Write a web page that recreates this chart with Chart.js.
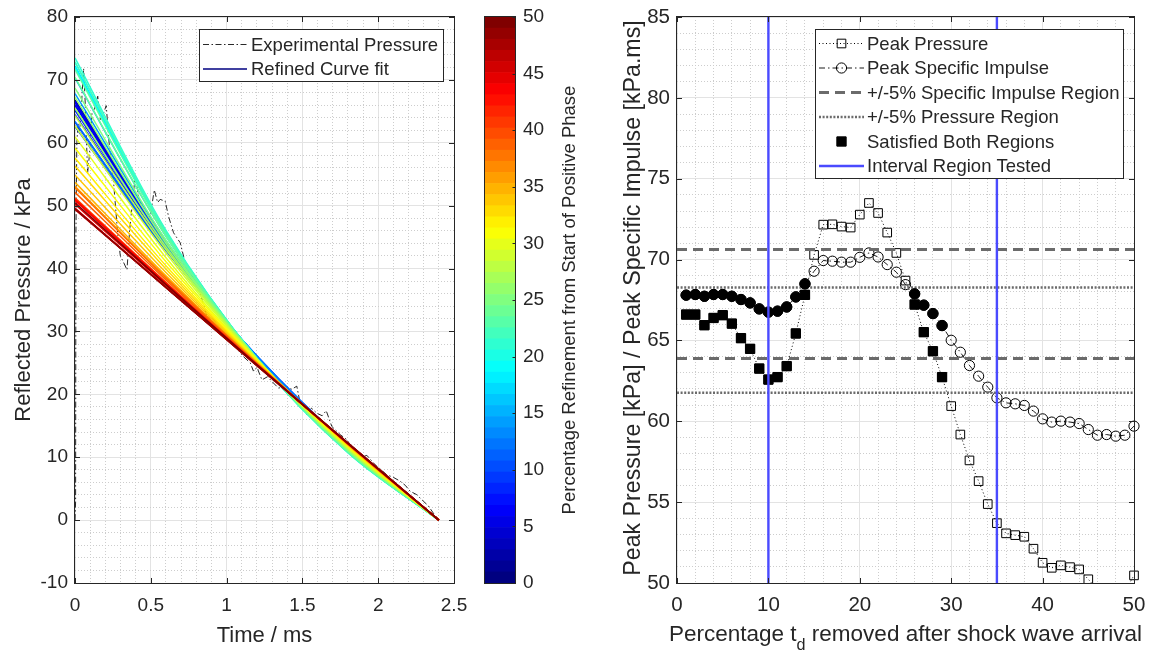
<!DOCTYPE html>
<html lang="en">
<head>
<meta charset="utf-8">
<title>Refined curve fits and peak values</title>
<script src="https://cdn.jsdelivr.net/npm/chart.js@4.4.1/dist/chart.umd.min.js"></script>
<style>
  html, body { margin: 0; background: #ffffff; }
  #figure { position: relative; width: 1154px; height: 650px; overflow: hidden; }
  #figure canvas { position: absolute; top: 0; }
</style>
</head>
<body>
<div id="figure">
  <canvas id="fitChart" width="470" height="650" style="left:0;width:470px;height:650px"></canvas>
  <canvas id="colorBar" width="130" height="650" style="left:470px;width:130px;height:650px"></canvas>
  <canvas id="peakChart" width="554" height="650" style="left:600px;width:554px;height:650px"></canvas>
</div>
<script>
const FONT = "'Liberation Sans', Arial, Helvetica, sans-serif";
const INK = '#262626';
Chart.defaults.font.family = FONT;
Chart.defaults.color = INK;

// ---- left panel: measured trace ----
const expTime = [0.000, 0.004, 0.006, 0.012, 0.020, 0.030, 0.040, 0.057, 0.068, 0.083,
  0.095, 0.112, 0.130, 0.150, 0.167, 0.185, 0.206, 0.225, 0.255, 0.281,
  0.299, 0.320, 0.343, 0.360, 0.397, 0.420, 0.450, 0.496, 0.523, 0.545,
  0.562, 0.595, 0.617, 0.650, 0.694, 0.727, 0.770, 0.826, 0.870, 0.914,
  0.960, 1.000, 1.050, 1.111, 1.156, 1.177, 1.200, 1.233, 1.270, 1.309,
  1.342, 1.397, 1.430, 1.463, 1.485, 1.529, 1.560, 1.595, 1.630, 1.657,
  1.694, 1.749, 1.793, 1.837, 1.881, 1.925, 1.980, 2.020, 2.057, 2.100,
  2.144, 2.180, 2.210, 2.254, 2.298, 2.330, 2.364, 2.397];
const expPressure = [0.0, 3.0, 45.0, 60.0, 63.0, 61.5, 65.0, 71.8, 66.0, 55.2,
  58.0, 64.7, 65.5, 67.4, 63.7, 64.5, 65.9, 60.0, 53.6, 45.7,
  42.0, 41.0, 39.8, 46.0, 54.7, 51.5, 49.0, 48.3, 52.5, 50.5,
  51.0, 50.7, 48.3, 45.7, 44.1, 40.9, 39.0, 36.1, 32.4, 31.9,
  30.5, 29.5, 27.8, 26.0, 25.0, 23.7, 24.3, 22.3, 22.8, 21.8,
  21.0, 21.2, 20.8, 21.3, 18.6, 16.8, 17.8, 17.0, 16.6, 17.4,
  14.9, 13.6, 12.8, 11.2, 9.9, 10.3, 8.8, 8.0, 7.2, 6.8,
  6.2, 5.5, 4.6, 4.05, 3.0, 2.3, 1.1, 0.1];

// ---- right panel: peak values per percentage removed ----
const percentRemoved = [1, 2, 3, 4, 5, 6, 7, 8, 9, 10,
  11, 12, 13, 14, 15, 16, 17, 18, 19, 20,
  21, 22, 23, 24, 25, 26, 27, 28, 29, 30,
  31, 32, 33, 34, 35, 36, 37, 38, 39, 40,
  41, 42, 43, 44, 45, 46, 47, 48, 49, 50];
const peakPressure = [66.60, 66.60, 65.94, 66.39, 66.56, 66.04, 65.14, 64.48, 63.26, 62.58,
  62.73, 63.41, 65.43, 67.82, 70.29, 72.16, 72.18, 72.04, 71.98, 72.78,
  73.50, 72.88, 71.67, 70.41, 68.70, 67.22, 65.51, 64.33, 62.73, 60.94,
  59.18, 57.58, 56.30, 54.88, 53.70, 53.07, 52.96, 52.86, 52.12, 51.25,
  50.94, 51.09, 50.98, 50.84, 50.23, 49.60, 49.40, 49.50, 49.50, 50.47];
const peakImpulse = [67.80, 67.84, 67.73, 67.84, 67.84, 67.73, 67.53, 67.32, 66.95, 66.75,
  66.81, 67.07, 67.69, 68.50, 69.28, 69.94, 69.90, 69.84, 69.84, 70.14,
  70.41, 70.16, 69.69, 69.22, 68.45, 67.88, 67.18, 66.66, 65.92, 65.01,
  64.27, 63.45, 62.79, 62.11, 61.45, 61.14, 61.08, 60.98, 60.63, 60.15,
  59.95, 60.01, 59.95, 59.86, 59.49, 59.14, 59.18, 59.08, 59.14, 59.70];
const impulseRegion = [63.88, 70.62];
const pressureRegion = [61.76, 68.27];
const intervalTested = [10, 35];

// ---- left panel: refined fits, one per refinement percentage ----
const fitPercent = [0, 1, 2, 3, 4, 5, 6, 7, 8, 9, 10,
  11, 12, 13, 14, 15, 16, 17, 18, 19, 20,
  21, 22, 23, 24, 25, 26, 27, 28, 29, 30,
  31, 32, 33, 34, 35, 36, 37, 38, 39, 40,
  41, 42, 43, 44, 45, 46, 47, 48, 49, 50];
const fitTimes = [0, 0.6, 1.2, 1.8, 2.4];
const fitPeakAtZero = 66.80;   // the 0 % line; the others start at peakPressure
const fitAt06 = [43.94, 43.91, 43.94, 43.80, 43.91, 43.93, 43.81, 43.59, 43.40, 43.04,
  42.85, 42.90, 43.13, 43.71, 44.43, 45.13, 45.68, 45.66, 45.61, 45.61,
  45.85, 46.07, 45.88, 45.49, 45.11, 44.50, 44.03, 43.45, 43.03, 42.44,
  41.73, 41.10, 40.45, 39.93, 39.36, 38.85, 38.59, 38.54, 38.48, 38.19,
  37.80, 37.65, 37.70, 37.66, 37.59, 37.30, 37.02, 37.00, 36.97, 37.00,
  37.45];
const fitAt12 = [25.69, 25.74, 25.76, 25.86, 25.82, 25.77, 25.84, 25.93, 25.96, 26.03,
  26.08, 26.08, 26.07, 25.96, 25.88, 25.75, 25.71, 25.67, 25.67, 25.69,
  25.68, 25.67, 25.67, 25.67, 25.68, 25.63, 25.64, 25.62, 25.59, 25.53,
  25.40, 25.38, 25.26, 25.17, 25.10, 24.98, 24.94, 24.93, 24.90, 24.87,
  24.78, 24.73, 24.73, 24.72, 24.70, 24.62, 24.56, 24.64, 24.55, 24.59,
  24.69];
const fitAt18 = [11.26, 11.31, 11.33, 11.45, 11.38, 11.34, 11.43, 11.57, 11.65, 11.81,
  11.90, 11.89, 11.82, 11.56, 11.30, 11.02, 10.85, 10.83, 10.84, 10.85,
  10.79, 10.73, 10.77, 10.86, 10.97, 11.07, 11.20, 11.33, 11.41, 11.51,
  11.60, 11.75, 11.83, 11.90, 12.00, 12.05, 12.09, 12.10, 12.08, 12.15,
  12.18, 12.19, 12.17, 12.18, 12.18, 12.19, 12.22, 12.30, 12.22, 12.25,
  12.21];
const fitAtEnd = 0;

// ---- tick labels ----
const timeTicks = [0, 0.5, 1, 1.5, 2, 2.5];
const pressureTicks = [-10, 0, 10, 20, 30, 40, 50, 60, 70, 80];
const colorTicks = [0, 5, 10, 15, 20, 25, 30, 35, 40, 45, 50];
const percentTicks = [0, 10, 20, 30, 40, 50];
const peakTicks = [50, 55, 60, 65, 70, 75, 80, 85];

// jet colour map, v from 0 to 1
function jet(v) {
  const c = x => Math.round(255 * Math.max(0, Math.min(1, x)));
  return 'rgb(' + c(1.5 - Math.abs(4 * v - 3)) + ',' + c(1.5 - Math.abs(4 * v - 2)) + ',' + c(1.5 - Math.abs(4 * v - 1)) + ')';
}

// fixed axis sizes, no extra label padding
function fixX(h) { return s => { s.height = h; s.paddingLeft = 0; s.paddingRight = 0; }; }
function fixY(w) { return s => { s.width = w; s.paddingTop = 0; s.paddingBottom = 0; }; }

// linear axis with solid major and dotted minor grid lines
function gridAxis(ticks, minor, pad, size, fit) {
  const isMajor = v => ticks.some(t => Math.abs(t - v) < 1e-6);
  return {
    type: 'linear', min: ticks[0], max: ticks[ticks.length - 1],
    ticks: {
      stepSize: minor, autoSkip: false, maxRotation: 0, minRotation: 0, padding: pad,
      color: INK, font: { size: size },
      callback: v => isMajor(v) ? String(Math.round(v * 100) / 100) : ''
    },
    grid: {
      drawTicks: false, lineWidth: 1,
      color: c => (c.tick && isMajor(c.tick.value)) ? '#e3e3e3' : '#cdcdcd'
    },
    border: { display: false, dash: c => (c.tick && !isMajor(c.tick.value)) ? [1, 2] : [] },
    afterFit: fit
  };
}

// axes box with inward tick marks
const frameBox = {
  id: 'frameBox',
  afterDatasetsDraw(chart, args, o) {
    const { ctx, chartArea: a, scales } = chart;
    const l = a.left - 0.5, r = a.right + 0.5, t = a.top - 0.5, b = a.bottom + 0.5;
    const len = o.len || 5.5;
    ctx.save();
    ctx.strokeStyle = INK;
    ctx.lineWidth = 1;
    ctx.strokeRect(l, t, r - l, b - t);
    ctx.beginPath();
    (o.xTicks || []).forEach(v => {
      const x = Math.round(scales.x.getPixelForValue(v)) + 0.5;
      ctx.moveTo(x, b); ctx.lineTo(x, b - len);
      ctx.moveTo(x, t); ctx.lineTo(x, t + len);
    });
    (o.yTicks || []).forEach(v => {
      const y = Math.round(scales.y.getPixelForValue(v)) + 0.5;
      if (!o.rightOnly) { ctx.moveTo(l, y); ctx.lineTo(l + len, y); }
      ctx.moveTo(r, y); ctx.lineTo(r - len, y);
    });
    ctx.stroke();
    ctx.restore();
  }
};

// axis titles, with optional subscript parts
const axisTitles = {
  id: 'axisTitles',
  afterDraw(chart, args, o) {
    const ctx = chart.ctx;
    (o.items || []).forEach(it => {
      const parts = it.parts || [{ text: it.text }];
      ctx.save();
      ctx.translate(it.x, it.y);
      ctx.rotate((it.rotate || 0) * Math.PI / 180);
      ctx.fillStyle = INK;
      ctx.textBaseline = 'alphabetic';
      ctx.textAlign = 'left';
      let total = 0;
      parts.forEach(p => {
        ctx.font = (p.sub ? it.size * 0.72 : it.size) + 'px ' + FONT;
        p.w = ctx.measureText(p.text).width;
        total += p.w;
      });
      let x = -total / 2;
      parts.forEach(p => {
        ctx.font = (p.sub ? it.size * 0.72 : it.size) + 'px ' + FONT;
        ctx.fillText(p.text, x, p.sub ? it.size * 0.42 : 0);
        x += p.w;
      });
      ctx.restore();
    });
  }
};

function drawMarker(ctx, d, x, y) {
  const r = d.pointRadius;
  ctx.save();
  ctx.setLineDash([]);
  ctx.beginPath();
  if (d.pointStyle === 'rect') {
    const s = r * Math.SQRT1_2;
    ctx.rect(x - s, y - s, 2 * s, 2 * s);
  } else {
    ctx.arc(x, y, r, 0, Math.PI * 2);
  }
  ctx.fillStyle = d.pointBackgroundColor;
  ctx.fill();
  ctx.strokeStyle = d.pointBorderColor;
  ctx.lineWidth = d.pointBorderWidth;
  ctx.stroke();
  ctx.restore();
}

// boxed legend with line + marker samples
const boxLegend = {
  id: 'boxLegend',
  afterDraw(chart, args, o) {
    if (!o.rows) return;
    const ctx = chart.ctx;
    const sets = chart.data.datasets.filter(d => d.inLegend);
    ctx.save();
    ctx.fillStyle = '#ffffff';
    ctx.fillRect(o.x, o.y, o.w, o.h);
    ctx.strokeStyle = INK;
    ctx.lineWidth = 1;
    ctx.strokeRect(o.x + 0.5, o.y + 0.5, o.w, o.h);
    sets.forEach((d, k) => {
      const y = o.rows[k];
      if (d.showLine !== false) {
        ctx.save();
        ctx.strokeStyle = d.borderColor;
        ctx.lineWidth = d.borderWidth;
        ctx.setLineDash(d.borderDash || []);
        ctx.beginPath();
        ctx.moveTo(o.lineX[0], y);
        ctx.lineTo(o.lineX[1], y);
        ctx.stroke();
        ctx.restore();
      }
      if (d.pointRadius > 0) drawMarker(ctx, d, (o.lineX[0] + o.lineX[1]) / 2, y);
      ctx.fillStyle = INK;
      ctx.font = o.size + 'px ' + FONT;
      ctx.textBaseline = 'middle';
      ctx.textAlign = 'left';
      ctx.fillText(d.label, o.textX, y + 1);
    });
    ctx.restore();
  }
};

// ---------- left panel ----------
const fitAt0 = [fitPeakAtZero].concat(peakPressure);
const fitSets = fitPercent.map((p, i) => {
  const vals = [fitAt0[i], fitAt06[i], fitAt12[i], fitAt18[i], fitAtEnd];
  return {
    label: 'Refined Curve fit',
    inLegend: i === 0,
    data: fitTimes.map((t, k) => ({ x: t, y: vals[k] })),
    borderColor: jet(p / 50),
    borderWidth: 1.5,
    pointRadius: 0,
    cubicInterpolationMode: 'monotone',
    order: 100 - i
  };
});

new Chart(document.getElementById('fitChart'), {
  type: 'line',
  data: {
    datasets: [{
      label: 'Experimental Pressure',
      inLegend: true,
      data: expTime.map((t, i) => ({ x: t, y: expPressure[i] })),
      borderColor: '#111111',
      borderWidth: 0.9,
      borderDash: [6, 2.5, 1.5, 2.5],
      pointRadius: 0,
      order: 200
    }].concat(fitSets)
  },
  options: {
    responsive: false, animation: false, events: [],
    layout: { padding: { left: 0, top: 17, right: 16, bottom: 0 } },
    plugins: {
      legend: { display: false }, tooltip: { enabled: false },
      frameBox: { xTicks: timeTicks, yTicks: pressureTicks, len: 5.5 },
      axisTitles: { items: [
        { text: 'Time / ms', x: 264.5, y: 641.5, size: 22 },
        { text: 'Reflected Pressure / kPa', x: 29.5, y: 300, size: 22, rotate: -90 }
      ] },
      boxLegend: { x: 199, y: 29, w: 244, h: 52, rows: [44.5, 69], lineX: [203, 247], textX: 251, size: 18.5 }
    },
    scales: {
      x: gridAxis(timeTicks, 0.1, 11, 19, fixX(67)),
      y: gridAxis(pressureTicks, 2, 7, 19, fixY(75))
    }
  },
  plugins: [frameBox, axisTitles, boxLegend]
});

// ---------- colour bar ----------
const bandSize = colorTicks[colorTicks.length - 1] / fitPercent.length;
new Chart(document.getElementById('colorBar'), {
  type: 'bar',
  data: {
    labels: [''],
    datasets: fitPercent.map((p, k) => ({
      data: [[k * bandSize, (k + 1) * bandSize]],
      backgroundColor: jet(p / 50),
      borderWidth: 0,
      grouped: false,
      barPercentage: 1,
      categoryPercentage: 1
    }))
  },
  options: {
    responsive: false, animation: false, events: [],
    layout: { padding: { left: 15, top: 17, right: 0, bottom: 67 } },
    plugins: {
      legend: { display: false }, tooltip: { enabled: false },
      frameBox: { yTicks: colorTicks, rightOnly: true, len: 3 },
      axisTitles: { items: [
        { text: 'Percentage Refinement from Start of Positive Phase', x: 105, y: 300, size: 18.5, rotate: -90 }
      ] }
    },
    scales: {
      x: { display: false },
      y: {
        position: 'right', min: colorTicks[0], max: colorTicks[colorTicks.length - 1],
        ticks: { stepSize: 5, padding: 8, color: INK, font: { size: 19 } },
        grid: { display: false, drawTicks: false },
        border: { display: false },
        afterFit: fixY(85)
      }
    }
  },
  plugins: [frameBox, axisTitles]
});

// ---------- right panel ----------
const inside = (v, range) => v >= range[0] && v <= range[1];
const satisfied = percentRemoved.map((p, i) => inside(peakPressure[i], pressureRegion) && inside(peakImpulse[i], impulseRegion));
const xLimits = [percentTicks[0], percentTicks[percentTicks.length - 1]];
const yLimits = [peakTicks[0], peakTicks[peakTicks.length - 1]];

function horizontalPair(values) {
  return [{ x: xLimits[0], y: values[0] }, { x: xLimits[1], y: values[0] }, { x: xLimits[1], y: null },
          { x: xLimits[0], y: values[1] }, { x: xLimits[1], y: values[1] }];
}
function verticalPair(values) {
  return [{ x: values[0], y: yLimits[0] }, { x: values[0], y: yLimits[1] }, { x: values[0], y: null },
          { x: values[1], y: yLimits[1] }, { x: values[1], y: yLimits[0] }];
}
const markerClip = { left: 12, right: 12, top: 0, bottom: 1 };

new Chart(document.getElementById('peakChart'), {
  type: 'line',
  data: {
    datasets: [
      {
        label: 'Peak Pressure', inLegend: true,
        data: percentRemoved.map((p, i) => ({ x: p, y: peakPressure[i] })),
        borderColor: '#000000', borderWidth: 1, borderDash: [1, 2.5],
        pointStyle: 'rect', pointRadius: 6.1, pointBackgroundColor: 'rgba(0,0,0,0)',
        pointBorderColor: '#000000', pointBorderWidth: 1, clip: markerClip, order: 6
      },
      {
        label: 'Peak Specific Impulse', inLegend: true,
        data: percentRemoved.map((p, i) => ({ x: p, y: peakImpulse[i] })),
        borderColor: '#000000', borderWidth: 0.9, borderDash: [6, 3, 1.5, 3],
        pointStyle: 'circle', pointRadius: 5.1, pointBackgroundColor: 'rgba(0,0,0,0)',
        pointBorderColor: '#000000', pointBorderWidth: 1, clip: markerClip, order: 5
      },
      {
        label: '+/-5% Specific Impulse Region', inLegend: true,
        data: horizontalPair(impulseRegion),
        borderColor: '#6b6b6b', borderWidth: 3, borderDash: [10, 6], pointRadius: 0, order: 4
      },
      {
        label: '+/-5% Pressure Region', inLegend: true,
        data: horizontalPair(pressureRegion),
        borderColor: '#6b6b6b', borderWidth: 2.6, borderDash: [2, 1.6], pointRadius: 0, order: 3
      },
      {
        label: 'Satisfied Both Regions', inLegend: true, showLine: false,
        data: percentRemoved.filter((p, i) => satisfied[i]).map(p => ({ x: p, y: peakPressure[p - 1] })),
        pointStyle: 'rect', pointRadius: 6.6, pointBackgroundColor: '#000000',
        pointBorderColor: '#000000', pointBorderWidth: 1, clip: markerClip, order: 2
      },
      {
        label: 'Interval Region Tested', inLegend: true,
        data: verticalPair(intervalTested),
        borderColor: '#4a4aff', borderWidth: 2.4, pointRadius: 0, order: 0
      },
      {
        label: 'Satisfied Both Regions (impulse)', inLegend: false, showLine: false,
        data: percentRemoved.filter((p, i) => satisfied[i]).map(p => ({ x: p, y: peakImpulse[p - 1] })),
        pointStyle: 'circle', pointRadius: 5.2, pointBackgroundColor: '#000000',
        pointBorderColor: '#000000', pointBorderWidth: 1, clip: markerClip, order: 1
      }
    ]
  },
  options: {
    responsive: false, animation: false, events: [],
    layout: { padding: { left: 0, top: 17, right: 20, bottom: 0 } },
    plugins: {
      legend: { display: false }, tooltip: { enabled: false },
      frameBox: { xTicks: percentTicks, yTicks: peakTicks, len: 5.5 },
      axisTitles: { items: [
        { parts: [{ text: 'Percentage t' }, { text: 'd', sub: true }, { text: ' removed after shock wave arrival' }],
          x: 305.5, y: 641, size: 22.5 },
        { text: 'Peak Pressure [kPa] / Peak Specific Impulse [kPa.ms]', x: 39.5, y: 298, size: 23.2, rotate: -90 }
      ] },
      boxLegend: { x: 215, y: 29, w: 308, h: 149, rows: [43.5, 68, 92.5, 117, 141.5, 166],
                   lineX: [219, 264], textX: 267, size: 18.5 }
    },
    scales: {
      x: gridAxis(percentTicks, 2, 10, 20.5, fixX(67)),
      y: gridAxis(peakTicks, 1, 7, 20.5, fixY(77))
    }
  },
  plugins: [frameBox, axisTitles, boxLegend]
});
</script>
</body>
</html>
